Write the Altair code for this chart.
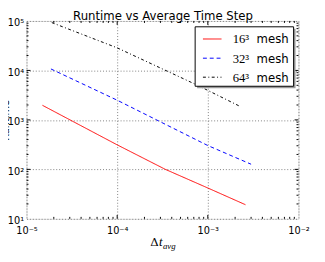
import altair as alt
import pandas as pd

# ---- data ----
mesh_names = ["16", "32", "64"]
mesh_labels = ["16\u00b3", "32\u00b3", "64\u00b3"]
mesh_word = "mesh"
mesh_colors = ["#ff0000", "#0000ff", "#000000"]
mesh_dashes = [[1, 0], [4, 3], [3, 2.5, 1, 2.5]]

dt_16 = [1.5e-5, 1.0e-4, 3.4e-4, 1.0e-3, 2.6e-3]
rt_16 = [1970, 313, 100, 42, 19.3]

dt_32 = [1.86e-5, 1.0e-4, 1.0e-3, 3.0e-3]
rt_32 = [10700, 2500, 303, 127]

dt_64 = [1.9e-5, 1.0e-4, 7.2e-4, 1.0e-3, 2.3e-3]
rt_64 = [92600, 28600, 5300, 3950, 1850]

x_ticks = [1e-5, 1e-4, 1e-3, 1e-2]
x_tick_labels = ["10\u207b\u2075", "10\u207b\u2074", "10\u207b\u00b3", "10\u207b\u00b2"]
y_ticks = [1e1, 1e2, 1e3, 1e4, 1e5]
y_tick_labels = ["10\u00b9", "10\u00b2", "10\u00b3", "10\u2074", "10\u2075"]

title_text = "Runtime vs Average Time Step"
y_title = "Runtime"

W, H = 279, 203

rows = []
for lab, xs, ys in zip(mesh_names, [dt_16, dt_32, dt_64], [rt_16, rt_32, rt_64]):
    for i, (a, b) in enumerate(zip(xs, ys)):
        rows.append({"mesh": lab, "dt": a, "rt": b, "order": i})
df = pd.DataFrame(rows)

def label_expr(values, labels):
    expr = f"'{labels[-1]}'"
    for v, l in reversed(list(zip(values[:-1], labels[:-1]))):
        expr = f"datum.value < {v * 1.5} ? '{l}' : ({expr})"
    return expr

xscale = alt.Scale(type="log", domain=[1e-5, 1e-2])
yscale = alt.Scale(type="log", domain=[10, 1e5])
cscale = alt.Scale(domain=mesh_names, range=mesh_colors)
dscale = alt.Scale(domain=mesh_names, range=mesh_dashes)

grid_kw = dict(grid=True, gridDash=[1, 2], gridColor="#808080", gridWidth=1,
               ticks=False, domain=False, labelFont="DejaVu Sans",
               labelFontSize=10, labelColor="black")

lines = alt.Chart(df).mark_line(strokeWidth=1, clip=True).encode(
    x=alt.X("dt:Q", scale=xscale,
            axis=alt.Axis(values=x_ticks, labelExpr=label_expr(x_ticks, x_tick_labels),
                          labelPadding=7, title=None, labelFlush=False, **grid_kw)),
    y=alt.Y("rt:Q", scale=yscale,
            axis=alt.Axis(values=y_ticks, labelExpr=label_expr(y_ticks, y_tick_labels),
                          labelPadding=3, labelOffset=2, labelFlush=False,
                          title=y_title, titleFont="DejaVu Sans", titleFontSize=10,
                          titleFontWeight="normal", titleColor="black",
                          titleX=-18.5, titleY=H / 2, titleBaseline="alphabetic",
                          **grid_kw)),
    color=alt.Color("mesh:N", scale=cscale, legend=None),
    strokeDash=alt.StrokeDash("mesh:N", scale=dscale, legend=None),
    order="order:Q",
)

# inward tick marks (major and minor) like the matplotlib frame
x_major = [1e-4, 1e-3]
x_minor = [m * 10.0 ** e for e in (-5, -4, -3) for m in range(2, 10)]
y_major = [1e2, 1e3, 1e4]
y_minor = [m * 10.0 ** e for e in (1, 2, 3, 4) for m in range(2, 10)]

def xticks(vals, length):
    d = pd.DataFrame({"v": vals})
    b = alt.Chart(d).mark_rule(color="black", strokeWidth=1).encode(
        x=alt.X("v:Q", scale=xscale), y=alt.value(H), y2=alt.value(H - length))
    t = alt.Chart(d).mark_rule(color="black", strokeWidth=1).encode(
        x=alt.X("v:Q", scale=xscale), y=alt.value(0), y2=alt.value(length))
    return [b, t]

def yticks(vals, length):
    d = pd.DataFrame({"v": vals})
    l = alt.Chart(d).mark_rule(color="black", strokeWidth=1).encode(
        y=alt.Y("v:Q", scale=yscale), x=alt.value(0), x2=alt.value(length))
    r = alt.Chart(d).mark_rule(color="black", strokeWidth=1).encode(
        y=alt.Y("v:Q", scale=yscale), x=alt.value(W), x2=alt.value(W - length))
    return [l, r]

tick_layers = xticks(x_major, 4) + xticks(x_minor, 2) + yticks(y_major, 4) + yticks(y_minor, 2)

def txt(s, x, y, **kw):
    return alt.Chart(pd.DataFrame({"s": [s]})).mark_text(
        color="black", baseline="alphabetic", **kw).encode(
        text="s:N", x=alt.value(x), y=alt.value(y))

# title
title = txt(title_text, W / 2 + 0.5, -1.3, font="DejaVu Sans", fontSize=12, align="center")

# x-axis title: Δt_avg (mathtext-like)
x_title = [
    txt("\u0394", W / 2 - 4, H + 27.5, font="DejaVu Serif", fontSize=12, align="right"),
    txt("t", W / 2 - 3.5, H + 27.5, font="Liberation Serif", fontSize=13,
        fontStyle="italic", align="left"),
    txt("avg", W / 2 + 0.5, H + 30.5, font="Liberation Serif", fontSize=9,
        fontStyle="italic", align="left"),
]

# legend box (drawn like matplotlib's, with shadow)
LX0, LX1, LY0, LY1 = 173, 274, 6, 67
one = pd.DataFrame({"k": [0]})
shadow = alt.Chart(one).mark_rect(fill="#9a9a9a", stroke=None).encode(
    x=alt.value(LX0 + 2), x2=alt.value(LX1 + 2), y=alt.value(LY0 + 2), y2=alt.value(LY1 + 2))
box = alt.Chart(one).mark_rect(fill="white", stroke="black", strokeWidth=1).encode(
    x=alt.value(LX0), x2=alt.value(LX1), y=alt.value(LY0), y2=alt.value(LY1))

legend_layers = [shadow, box]
row_line_y = [18.5, 38.2, 57.7]
for name, lab, ly in zip(mesh_names, mesh_labels, row_line_y):
    d = pd.DataFrame({"mesh": [name]})
    legend_layers.append(
        alt.Chart(d).mark_rule(strokeWidth=1).encode(
            x=alt.value(181), x2=alt.value(200), y=alt.value(ly),
            color=alt.Color("mesh:N", scale=cscale, legend=None),
            strokeDash=alt.StrokeDash("mesh:N", scale=dscale, legend=None)))
    legend_layers.append(txt(lab, 211.5, ly + 4.6, font="Liberation Serif", fontSize=13, align="left"))
    legend_layers.append(txt(mesh_word, 236, ly + 4.6, font="DejaVu Sans", fontSize=12, align="left"))

chart = alt.layer(lines, *tick_layers, *legend_layers, title, *x_title).properties(
    width=W, height=H,
    autosize=alt.AutoSizeParams(type="none"),
    padding={"left": 19, "top": 10, "right": 19, "bottom": 41},
).configure_view(stroke="black", strokeWidth=1).configure(background="white")

chart.save("out.html", embed_options={"renderer": "svg", "actions": False})
